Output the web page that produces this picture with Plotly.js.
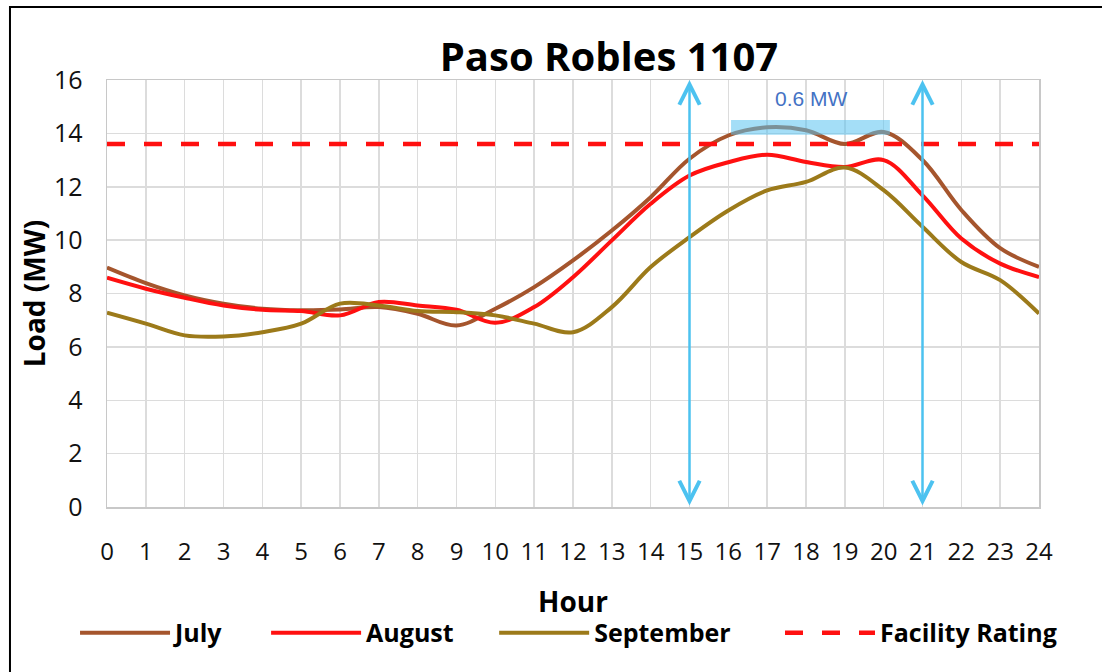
<!DOCTYPE html>
<html>
<head>
<meta charset="utf-8">
<script src="https://cdn.plot.ly/plotly-3.0.1.min.js"></script>
<style>html,body{margin:0;padding:0;background:#fff;}#chart{width:1102px;height:672px;}</style>
</head>
<body>
<div id="chart"></div>
<script>
// ---- data ----
const hours = [0,1,2,3,4,5,6,7,8,9,10,11,12,13,14,15,16,17,18,19,20,21,22,23,24];
const julyLoad = [8.97,8.39,7.93,7.62,7.43,7.37,7.40,7.49,7.24,6.80,7.43,8.24,9.24,10.36,11.61,13.05,13.92,14.23,14.12,13.60,14.05,13.00,11.13,9.70,9.00];
const augustLoad = [8.59,8.18,7.84,7.55,7.39,7.34,7.18,7.68,7.55,7.39,6.90,7.49,8.61,9.99,11.36,12.42,12.92,13.20,12.93,12.74,13.00,11.68,10.06,9.12,8.62];
const septemberLoad = [7.28,6.87,6.43,6.39,6.55,6.87,7.62,7.55,7.34,7.30,7.18,6.87,6.55,7.49,8.99,10.11,11.11,11.86,12.18,12.72,11.87,10.50,9.18,8.50,7.25];
const facilityRating = 13.6;
const windowHours = [15, 21];          // blue arrows
const overloadSpan = [16.07, 20.16];   // hours of the shaded band
const overloadLabel = "0.6 MW";
const yTicks = [0,2,4,6,8,10,12,14,16];

const FONT = "'Open Sans', 'Noto Sans', sans-serif";
const lineW = 4;

const traces = [
  {x: hours, y: julyLoad, name: "July", mode: "lines", legend: "legend",
   line: {color: "#a5552d", width: lineW, shape: "spline", smoothing: 1}},
  {x: hours, y: augustLoad, name: "August", mode: "lines", legend: "legend2",
   line: {color: "#ff1010", width: lineW, shape: "spline", smoothing: 1}},
  {x: hours, y: septemberLoad, name: "September", mode: "lines", legend: "legend3",
   line: {color: "#9c7a1a", width: lineW, shape: "spline", smoothing: 1}},
  {x: [hours[0], hours[hours.length-1]], y: [facilityRating, facilityRating], name: "Facility Rating", mode: "lines", legend: "legend4",
   line: {color: "#ff1010", width: 4.5, dash: "18px,19px"}}
];

const annotations = windowHours.map(h => ({
  x: h, y: 16, ax: h, ay: 0, xref: "x", yref: "y", axref: "x", ayref: "y",
  text: "", showarrow: true, arrowside: "end+start",
  arrowhead: 5, startarrowhead: 5, arrowsize: 1.6, startarrowsize: 1.6,
  arrowwidth: 2.5, arrowcolor: "#4cc2f0", standoff: 0, startstandoff: 0
}));
annotations.push({
  x: 18.15, y: 15.3, xref: "x", yref: "y", text: overloadLabel, showarrow: false,
  font: {family: "'Liberation Sans', Arial, sans-serif", size: 21, color: "#4472c4"}
});

function legendAt(x) {
  return {orientation: "h", x: x, xanchor: "left", y: -0.295, yanchor: "middle",
          itemwidth: 90, font: {family: FONT, size: 25, weight: 700, color: "#000"},
          bgcolor: "rgba(0,0,0,0)"};
}

const layout = {
  width: 1102, height: 672,
  margin: {l: 107, r: 63, t: 80, b: 165},
  paper_bgcolor: "#fff", plot_bgcolor: "#fff",
  font: {family: FONT, color: "#111"},
  title: {text: "Paso Robles 1107", x: 0.5526, xref: "container", xanchor: "center",
          y: 0.915, yref: "container", yanchor: "middle",
          font: {family: FONT, size: 40, weight: 700, color: "#000"}},
  xaxis: {range: [0, 24], tickvals: hours, ticktext: hours.map(String),
          showgrid: true, gridcolor: "#dcdcdc", gridwidth: 1.5, zeroline: false,
          showline: true, linecolor: "#c8c8c8", linewidth: 1.5, mirror: true,
          ticks: "outside", ticklen: 23, tickcolor: "rgba(0,0,0,0)",
          tickfont: {family: FONT, size: 24, color: "#111"},
          title: {text: "Hour", font: {family: FONT, size: 28, weight: 700, color: "#000"}, standoff: 26}},
  yaxis: {range: [0, 16], tickvals: yTicks, ticktext: yTicks.map(String),
          showgrid: true, gridcolor: "#dcdcdc", gridwidth: 1.5, zeroline: false,
          showline: true, linecolor: "#c8c8c8", linewidth: 1.5, mirror: true,
          ticks: "outside", ticklen: 18, tickcolor: "rgba(0,0,0,0)",
          tickfont: {family: FONT, size: 25, color: "#111"},
          title: {text: "Load (MW)", font: {family: FONT, size: 28, weight: 700, color: "#000"}, standoff: 0}},
  showlegend: true,
  legend: legendAt(-0.0343),
  legend2: legendAt(0.1707),
  legend3: legendAt(0.4154),
  legend4: legendAt(0.7221),
  shapes: [
    {type: "rect", xref: "x", yref: "y", x0: overloadSpan[0], x1: overloadSpan[1], y0: 13.95, y1: 14.5,
     fillcolor: "rgba(90,195,240,0.55)", line: {width: 0}, layer: "above"},
    {type: "rect", xref: "paper", yref: "paper", x0: -0.1041, x1: 1.08, y0: -0.42, y1: 1.171,
     line: {color: "#000", width: 2}, fillcolor: "rgba(0,0,0,0)", layer: "below"}
  ],
  annotations: annotations
};

Plotly.newPlot("chart", traces, layout, {displayModeBar: false, staticPlot: true});
</script>
</body>
</html>
